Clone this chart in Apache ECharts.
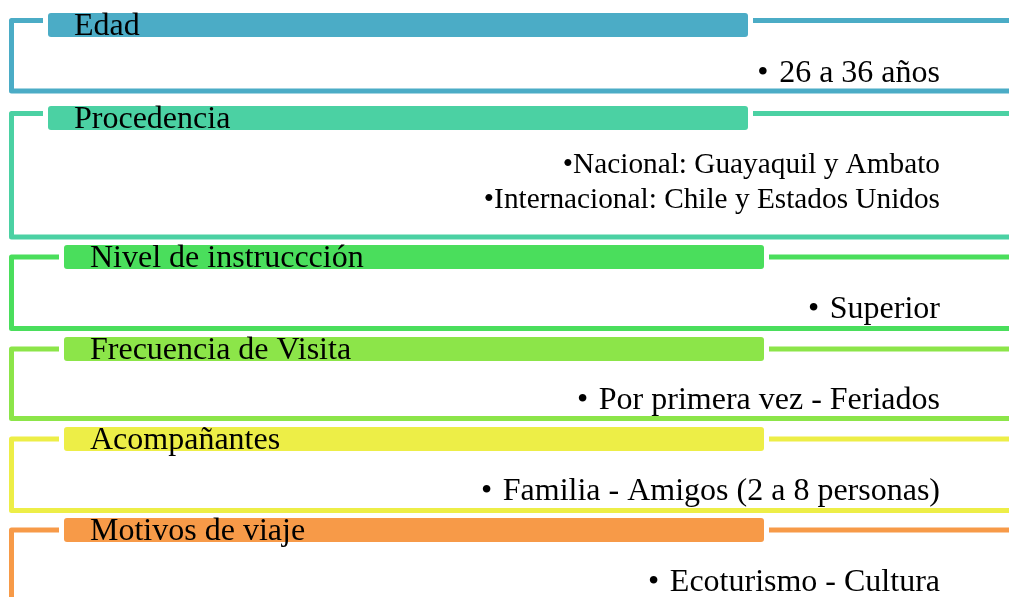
<!DOCTYPE html>
<html>
<head>
<meta charset="utf-8">
<script src="https://cdn.jsdelivr.net/npm/echarts@6/dist/echarts.min.js"></script>
<style>html,body{margin:0;padding:0;background:#fff}#c{width:1009px;height:597px}</style>
</head>
<body>
<div id="c"></div>
<script>
// Content
const titles = ['Edad', 'Procedencia', 'Nivel de instruccción', 'Frecuencia de Visita', 'Acompañantes', 'Motivos de viaje'];
const items = [
  ['•\u200A 26 a 36 años'],
  ['•Nacional: Guayaquil y Ambato', '•Internacional: Chile y Estados Unidos'],
  ['•\u200A Superior'],
  ['•\u200A Por primera vez - Feriados'],
  ['•\u200A Familia - Amigos (2 a 8 personas)'],
  ['•\u200A Ecoturismo - Cultura']
];
const colors = ['#4BACC6', '#4BD1A3', '#4ADE5C', '#8CE549', '#EDEE47', '#F79A48'];

// Layout (kept separate from content)
const W = 1009, H = 597;
const barX = [48, 48, 64, 64, 64, 64];
const barTop = [13, 106, 245, 337, 427, 518];
const bottomY = [91, 237, 328.5, 418.5, 510.5, H + 10];
const connOff = [7.5, 7.5, 12, 12, 12, 12];
const itemOff = [61, 59, 65, 64, 65, 65];
const itemSize = [32, 29.3, 32, 32, 32, 32];
const itemGap = 35.5;
const FONT = '"Liberation Serif", "Times New Roman", serif';

const els = [];
titles.forEach((t, i) => {
  const c = colors[i];
  const top = barTop[i];
  const cy = top + connOff[i];
  const vx = 11.5;
  els.push({
    type: 'polyline',
    shape: { points: [[barX[i] - 5, cy], [vx, cy], [vx, bottomY[i]], [W + 5, bottomY[i]]] },
    style: { stroke: c, lineWidth: 5, fill: null, lineJoin: 'round' },
    silent: true
  });
  els.push({
    type: 'line',
    shape: { x1: barX[i] + 705, y1: cy, x2: W + 5, y2: cy },
    style: { stroke: c, lineWidth: 5 },
    silent: true
  });
  els.push({
    type: 'rect',
    shape: { x: barX[i], y: top, width: 700, height: 24, r: 3 },
    style: { fill: c },
    silent: true
  });
  els.push({
    type: 'text',
    x: barX[i] + 26, y: top + 13.5,
    style: { text: t, font: '32px ' + FONT, fill: '#000', textAlign: 'left', textVerticalAlign: 'middle' },
    silent: true
  });
  items[i].forEach((it, j) => {
    els.push({
      type: 'text',
      x: 940, y: top + itemOff[i] + j * itemGap,
      style: { text: it, font: itemSize[i] + 'px ' + FONT, fill: '#000', textAlign: 'right', textVerticalAlign: 'middle' },
      silent: true
    });
  });
});

const chart = echarts.init(document.getElementById('c'), null, { renderer: 'canvas' });
chart.setOption({ backgroundColor: '#fff', animation: false, graphic: { elements: els } });
</script>
</body>
</html>
